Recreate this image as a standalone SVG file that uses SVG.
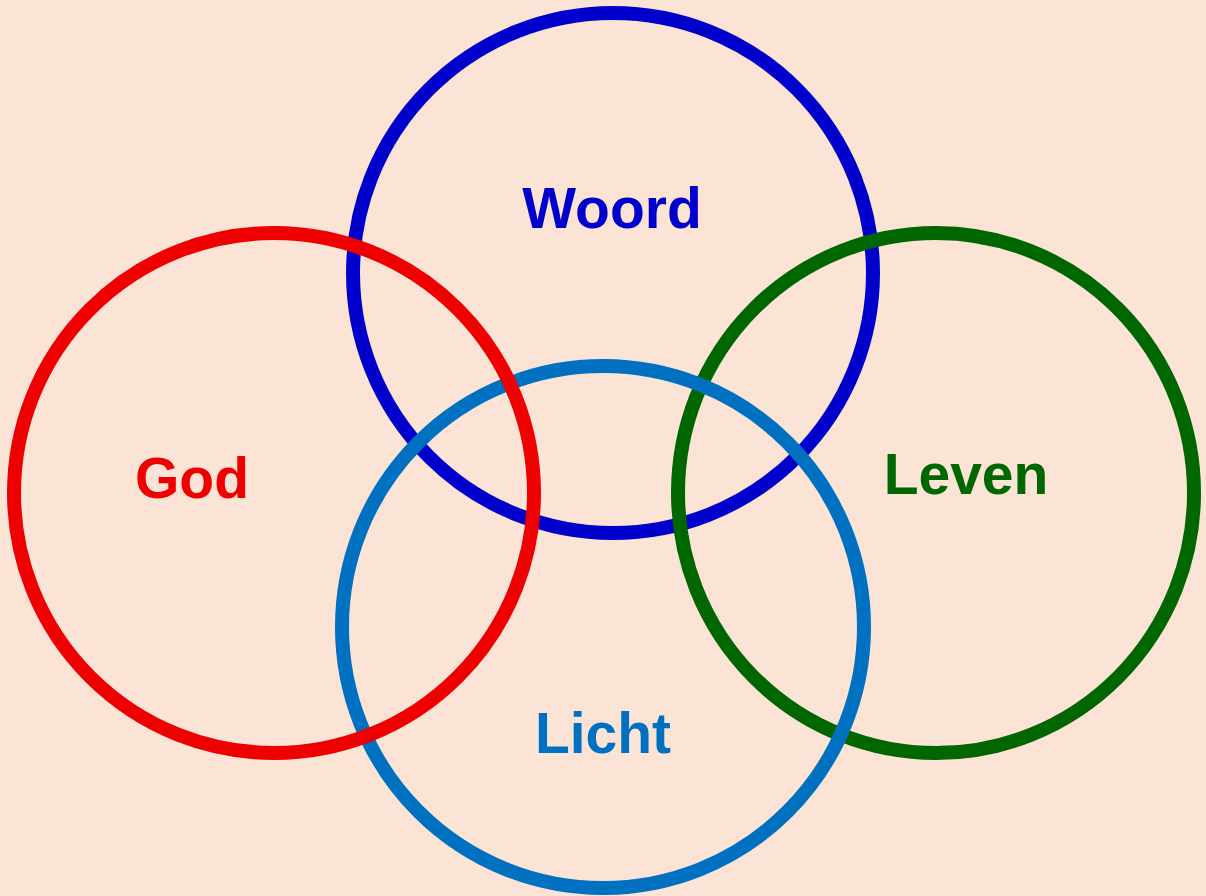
<svg xmlns="http://www.w3.org/2000/svg" width="1206" height="896" viewBox="0 0 1206 896">
<style>
.c{fill:none;stroke-width:14}
.t{font-family:"Liberation Sans",Arial,sans-serif;font-weight:bold;font-size:57px;text-anchor:middle}
</style>
<rect width="1206" height="896" fill="#fbe3d6"/>
<g id="woord"><circle class="c" cx="613" cy="273" r="260" stroke="#0000cc"/><text class="t" x="612" y="228" fill="#0000cc">Woord</text></g>
<g id="leven"><ellipse class="c" cx="936" cy="493" rx="258" ry="260" stroke="#006600"/><text class="t" x="966" y="494" fill="#006600">Leven</text></g>
<g id="licht"><circle class="c" cx="603" cy="627" r="261" stroke="#0070c0"/><text class="t" x="603" y="753" fill="#0070c0">Licht</text></g>
<g id="god"><circle class="c" cx="274" cy="493" r="260" stroke="#ee0000"/><text class="t" x="192" y="498" fill="#ee0000">God</text></g>
<g id="connectors"/>
</svg>
